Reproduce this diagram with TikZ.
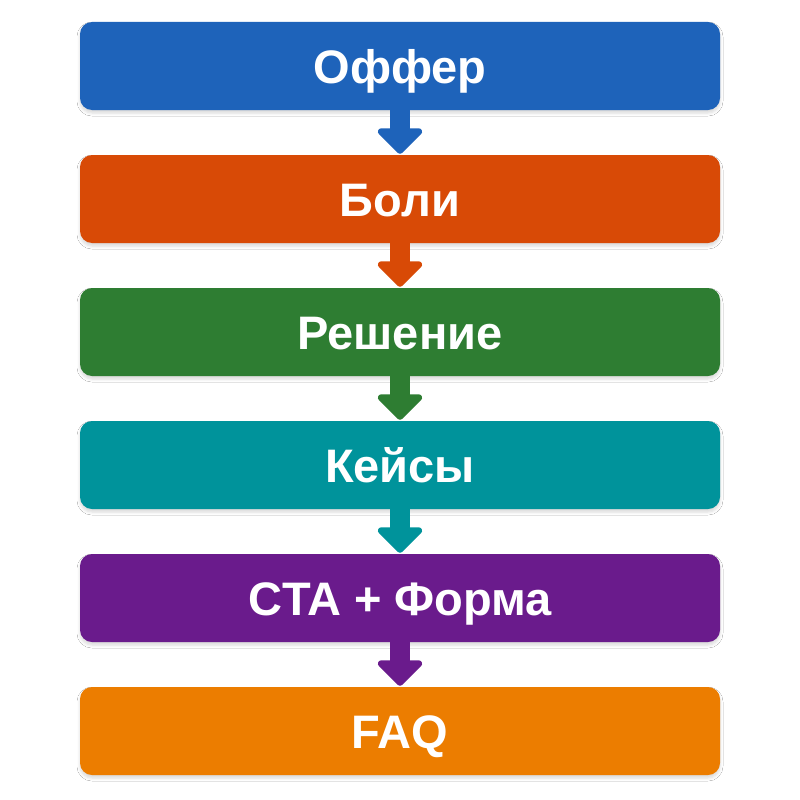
\documentclass[tikz,border=0pt]{standalone}
\usepackage{fontspec}
\setmainfont{Liberation Sans}
\usetikzlibrary{arrows.meta,shadows.blur}
\definecolor{cBlue}{HTML}{1E63BA}
\definecolor{cRed}{HTML}{D84A06}
\definecolor{cGreen}{HTML}{2E7D32}
\definecolor{cTeal}{HTML}{00939B}
\definecolor{cPurple}{HTML}{6A1B8C}
\definecolor{cOrange}{HTML}{EC7D00}
\tikzset{
  stepbox/.style={fill=#1, rounded corners=12pt, minimum width=640pt, minimum height=88pt,
    inner sep=0pt, text=white, font=\fontsize{47}{56}\selectfont\bfseries,
    text height=34pt, text depth=0pt,
    blur shadow={shadow xshift=0pt, shadow yshift=-3pt, shadow blur radius=3pt, shadow opacity=15}},
  flowarrow/.style={draw=#1, line width=20pt,
    -{Triangle[length=27pt, width=52pt, round=false]}, shorten >=1pt}
}
\begin{document}
\begin{tikzpicture}[x=1pt,y=-1pt]
\useasboundingbox[fill=white] (0,0) rectangle (800,800);
\node[stepbox=cBlue]   (n1) at (400,66)  {Оффер};
\node[stepbox=cRed]    (n2) at (400,199) {Боли};
\node[stepbox=cGreen]  (n3) at (400,332) {Решение};
\node[stepbox=cTeal]   (n4) at (400,465) {Кейсы};
\node[stepbox=cPurple] (n5) at (400,598) {CTA + Форма};
\node[stepbox=cOrange] (n6) at (400,731) {FAQ};
\draw[flowarrow=cBlue]   (n1) -- (n2);
\draw[flowarrow=cRed]    (n2) -- (n3);
\draw[flowarrow=cGreen]  (n3) -- (n4);
\draw[flowarrow=cTeal]   (n4) -- (n5);
\draw[flowarrow=cPurple] (n5) -- (n6);
\end{tikzpicture}
\end{document}
